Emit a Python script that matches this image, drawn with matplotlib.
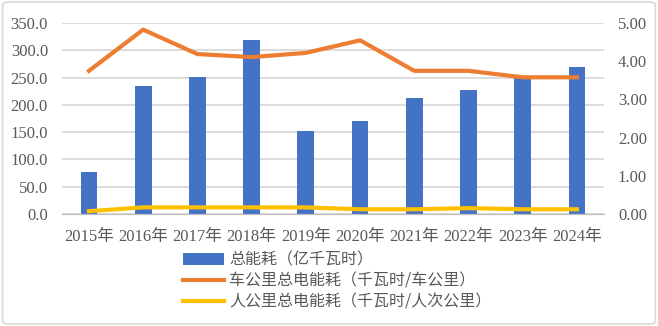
import matplotlib.pyplot as plt
from matplotlib.patches import FancyBboxPatch

years = ["2015年", "2016年", "2017年", "2018年", "2019年",
         "2020年", "2021年", "2022年", "2023年", "2024年"]
total_energy = [77, 235, 251, 319, 152, 171, 213, 228, 250, 270]
car_km_energy = [3.75, 4.83, 4.19, 4.11, 4.22, 4.55, 3.75, 3.75, 3.58, 3.58]
person_km_energy = [0.07, 0.17, 0.17, 0.17, 0.17, 0.12, 0.12, 0.15, 0.12, 0.12]

labels = ["总能耗（亿千瓦时）",
          "车公里总电能耗（千瓦时/车公里）",
          "人公里总电能耗（千瓦时/人次公里）"]

num_font = ["Liberation Serif", "Noto Sans CJK SC"]
text_color = "#595959"

fig = plt.figure(figsize=(6.58, 3.26), dpi=100)
fig.patches.append(FancyBboxPatch((0.004, 0.006), 0.992, 0.988,
                                  boxstyle="round,pad=0,rounding_size=0.01",
                                  transform=fig.transFigure, fill=False,
                                  edgecolor="#d9d9d9", linewidth=1.2))

ax = fig.add_axes([0.094, 0.344, 0.824, 0.585])
ax2 = ax.twinx()

x = list(range(len(years)))
bars = ax.bar(x, total_energy, width=0.31, color="#4472C4", zorder=2)
l1, = ax2.plot(x, car_km_energy, color="#ED7D31", linewidth=3, zorder=3)
l2, = ax2.plot(x, person_km_energy, color="#FFC000", linewidth=3, zorder=3)

ax.set_xlim(-0.5, len(years) - 0.5)
ax.set_ylim(0, 350)
ax.set_yticks(range(0, 351, 50))
ax.set_yticklabels([f"{v:.1f}" for v in range(0, 351, 50)])
ax2.set_ylim(0, 5)
ax2.set_yticks([0, 1, 2, 3, 4, 5])
ax2.set_yticklabels([f"{v:.2f}" for v in range(6)])
ax.set_xticks(x)
ax.set_xticklabels(years)

ax.grid(axis="y", color="#d9d9d9", linewidth=1.3, zorder=0)
ax.set_axisbelow(True)
for a in (ax, ax2):
    for side in ("top", "left", "right"):
        a.spines[side].set_visible(False)
    a.spines["bottom"].set_color("#bfbfbf")
    a.tick_params(length=0, colors=text_color, labelsize=12)
    for t in a.get_yticklabels() + a.get_xticklabels():
        t.set_fontfamily(num_font)
ax.tick_params(axis="y", pad=10)
ax2.tick_params(axis="y", pad=10)
ax.tick_params(axis="x", pad=11)

leg = fig.legend([bars, l1, l2], labels, loc="upper left",
                 bbox_to_anchor=(0.278, 0.228), frameon=False,
                 handlelength=2.6, handletextpad=0.3, labelspacing=0.25,
                 borderpad=0, borderaxespad=0,
                 prop={"family": "Noto Sans CJK SC", "size": 11.5})
for t in leg.get_texts():
    t.set_color(text_color)

fig.savefig("out.png", dpi=100)
